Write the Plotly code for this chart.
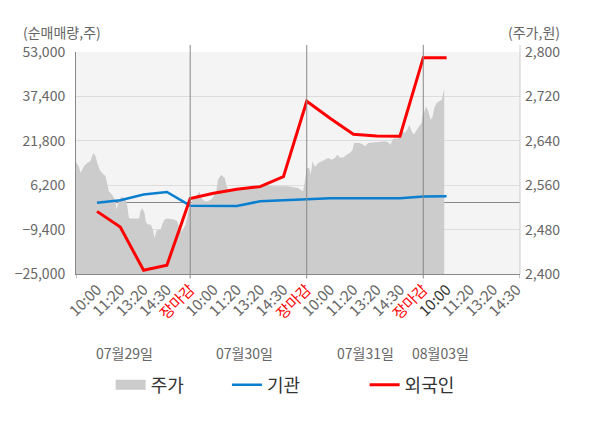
import plotly.graph_objects as go

# 가로축 눈금 (슬롯 1..19)
tick_labels = ['10:00', '11:20', '13:20', '14:30', '장마감'] * 3 + ['10:00', '11:20', '13:20', '14:30']
dates = ['07월29일', '07월30일', '07월31일', '08월03일']
date_pos = [2.2, 7.35, 12.5, 15.72]

# 기관 / 외국인 순매매량 (10:00 ~ 08/03 10:00)
flow_slot = list(range(1, 17))
inst = [0, 900, 2900, 3800, -1000, -1100, -1100, 550, 900, 1500, 1600, 1600, 1600, 1600, 2200, 2300]
foreign = [-3000, -8500, -23700, -21900, 1500, 3400, 4800, 5700, 9200, 35700, 29700, 24100, 23500, 23400,
           51000, 51000]

# 주가 (분봉 근사)
price_t = [0.08, 0.22, 0.30, 0.44, 0.58, 0.72, 0.84, 0.94, 1.01, 1.15, 1.37, 1.44, 1.51, 1.65, 1.80, 1.84,
           1.94, 2.08, 2.23, 2.30, 2.37, 2.44, 2.80, 2.87, 2.94, 3.04, 3.09, 3.18, 3.30, 3.40, 3.47, 3.56,
           3.73, 3.80, 3.90, 4.01, 4.30, 4.44, 4.56, 4.66, 4.80, 4.94, 5.02,
           5.12, 5.26, 5.40, 5.47, 5.62, 5.76, 5.93, 6.12, 6.19, 6.33, 6.40, 6.48, 6.55, 6.62, 6.90, 7.05,
           7.40, 7.62, 7.98, 8.33, 8.48, 9.19, 9.62, 9.76, 9.84, 9.91, 9.98,
           10.0, 10.11, 10.17, 10.25, 10.35, 10.49, 10.64, 10.78, 10.92, 11.07, 11.21, 11.31, 11.42, 11.57,
           11.71, 11.85, 11.97, 12.03, 12.28, 12.43, 12.50, 12.64, 12.93, 13.21, 13.36, 13.50, 13.60, 13.69,
           13.79, 13.88, 14.0, 14.12, 14.21, 14.31, 14.40, 14.50, 14.60, 14.72, 14.83, 14.93, 14.97,
           15.03, 15.12, 15.22, 15.32, 15.40, 15.47, 15.57, 15.69, 15.79, 15.86, 15.90]
price = [2603, 2594, 2582, 2594, 2600, 2603, 2618, 2612, 2600, 2585, 2576, 2564, 2549, 2543, 2531, 2516,
         2534, 2539, 2534, 2522, 2501, 2500, 2500, 2513, 2519, 2510, 2495, 2489, 2489, 2480, 2465, 2479,
         2480, 2489, 2498, 2500, 2498, 2495, 2480, 2477, 2489, 2516, 2522,
         2537, 2540, 2549, 2537, 2531, 2531, 2535, 2549, 2570, 2579, 2576, 2573, 2561, 2552, 2553, 2555,
         2555, 2557, 2558, 2561, 2558, 2558, 2555, 2552, 2549, 2564, 2589,
         2591, 2591, 2579, 2603, 2593, 2600, 2603, 2606, 2609, 2606, 2609, 2615, 2610, 2610,
         2615, 2618, 2624, 2636, 2636, 2633, 2630, 2636, 2637, 2638, 2639, 2637, 2633, 2643,
         2645, 2643, 2654, 2657, 2654, 2660, 2669, 2657, 2651, 2660, 2666, 2672, 2684,
         2693, 2702, 2693, 2678, 2684, 2699, 2708, 2712, 2714, 2726, 2733]

FONT = 'Noto Sans CJK KR'

ticktext = []
for i, t in enumerate(tick_labels):
    if t == '장마감':
        ticktext.append('<span style="color:#ff0000">%s</span>' % t)
    elif i == 15:
        ticktext.append('<span style="color:#333333">%s</span>' % t)
    else:
        ticktext.append(t)

fig = go.Figure()
fig.add_trace(go.Scatter(x=price_t, y=price, name='주가', yaxis='y', mode='lines', legendgroup='price',
                         showlegend=False, line=dict(width=0, color='#cccccc'), fill='tozeroy',
                         fillcolor='#cccccc'))
# 범례용 (주가 사각형 표시)
fig.add_trace(go.Scatter(x=[None], y=[None], name='주가', yaxis='y', mode='lines', legendgroup='price',
                         legend='legend', line=dict(width=14, color='#cccccc')))
fig.add_trace(go.Scatter(x=flow_slot, y=inst, name='기관', yaxis='y2', mode='lines', legend='legend2',
                         line=dict(width=2.5, color='#0b7fcf')))
fig.add_trace(go.Scatter(x=flow_slot, y=foreign, name='외국인', yaxis='y2', mode='lines', legend='legend3',
                         line=dict(width=3, color='#ff0000')))

# 일자 구분선
shapes = []
for s in [5, 10, 15]:
    shapes.append(dict(type='line', xref='x', yref='paper', x0=s, x1=s, y0=-0.02, y1=1.032,
                       line=dict(color='#888888', width=1), layer='above'))
for s in [0.1, 19.15]:
    shapes.append(dict(type='line', xref='x', yref='paper', x0=s, x1=s, y0=-0.02, y1=0,
                       line=dict(color='#888888', width=1), layer='above'))
shapes.append(dict(type='line', xref='paper', yref='paper', x0=1, x1=1, y0=0, y1=1.032,
                   line=dict(color='#cccccc', width=1), layer='above'))

annotations = [
    dict(text='(순매매량,주)', xref='paper', yref='paper', x=-0.125, y=1.09, xanchor='left', yanchor='middle',
         showarrow=False, font=dict(size=14, color='#666666')),
    dict(text='(주가,원)', xref='paper', yref='paper', x=1.095, y=1.09, xanchor='right', yanchor='middle',
         showarrow=False, font=dict(size=14, color='#666666')),
]
for d, p in zip(dates, date_pos):
    annotations.append(dict(text=d, xref='x', yref='paper', x=p, y=-0.355, xanchor='center', yanchor='middle',
                            showarrow=False, font=dict(size=14, color='#666666')))

leg = dict(orientation='h', y=-0.5, yanchor='middle', xanchor='left',
           font=dict(size=18, color='#333333'), bgcolor='rgba(0,0,0,0)')

fig.update_layout(
    width=592, height=420,
    margin=dict(l=68, r=80, t=44, b=154),
    paper_bgcolor='white', plot_bgcolor='#f4f4f4',
    font=dict(family=FONT, color='#666666'),
    showlegend=True,
    legend=dict(leg, x=0.078),
    legend2=dict(leg, x=0.34),
    legend3=dict(leg, x=0.65),
    xaxis=dict(range=[0.1, 19.15], tickmode='array', tickvals=list(range(1, 20)), ticktext=ticktext,
               tickangle=-45, tickfont=dict(size=15, color='#666666'), showgrid=False, zeroline=False,
               showline=True, linecolor='#888888', linewidth=1, ticks='', automargin=False),
    yaxis=dict(range=[2400, 2800], side='right', tickmode='linear', tick0=2400, dtick=80, tickformat=',',
               showgrid=False, zeroline=False, showline=False, tickfont=dict(size=14, color='#666666'),
               ticklabelstandoff=4, automargin=False),
    yaxis2=dict(range=[-25000, 53000], side='left', overlaying='y', tickmode='array',
                tickvals=[-25000, -9400, 6200, 21800, 37400, 53000], tickformat=',',
                showgrid=True, gridcolor='#dddddd', gridwidth=1,
                zeroline=True, zerolinecolor='#888888', zerolinewidth=1,
                showline=True, linecolor='#888888', linewidth=1, tickfont=dict(size=14, color='#666666'),
                ticklabelstandoff=7, automargin=False),
    shapes=shapes,
    annotations=annotations,
)

fig.write_html("out.html")
